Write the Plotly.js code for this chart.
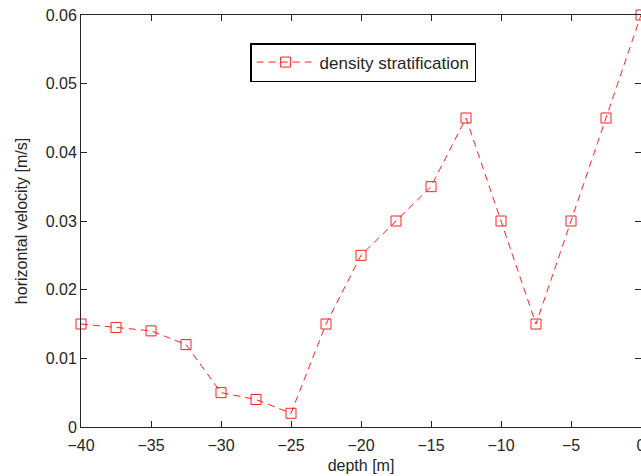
<!DOCTYPE html>
<html>
<head>
<meta charset="utf-8">
<script src="https://cdn.plot.ly/plotly-3.0.1.min.js"></script>
<style>html,body{margin:0;padding:0;background:#fff;}#chart{width:641px;height:476px;}</style>
</head>
<body>
<div id="chart"></div>
<script>
const depth = [-40, -37.5, -35, -32.5, -30, -27.5, -25, -22.5, -20, -17.5, -15, -12.5, -10, -7.5, -5, -2.5, 0];
const velocity = [0.015, 0.0145, 0.014, 0.012, 0.005, 0.004, 0.002, 0.015, 0.025, 0.030, 0.035, 0.045, 0.030, 0.015, 0.030, 0.045, 0.060];
const xTicks = [-40, -35, -30, -25, -20, -15, -10, -5, 0];
const xTickText = ['\u221240', '\u221235', '\u221230', '\u221225', '\u221220', '\u221215', '\u221210', '\u22125', '0'];
const yTicks = [0, 0.01, 0.02, 0.03, 0.04, 0.05, 0.06];
const yTickText = ['0', '0.01', '0.02', '0.03', '0.04', '0.05', '0.06'];

const FONT = 'Liberation Sans, Arial, sans-serif';
const trace = {
  x: depth, y: velocity, type: 'scatter', mode: 'lines+markers',
  name: 'density stratification',
  line: {color: '#ff2020', width: 1, dash: '7px,5px'},
  marker: {symbol: 'square-open', size: 10, color: '#ff2020', line: {width: 1, color: '#ff2020'}},
  cliponaxis: false
};
const axisFont = {family: FONT, size: 16, color: '#262626'};
const layout = {
  width: 641, height: 476,
  margin: {l: 81, r: 0, t: 15, b: 49, autoexpand: false},
  paper_bgcolor: '#fff', plot_bgcolor: '#fff',
  showlegend: true,
  legend: {x: 0.302, y: 0.932, xanchor: 'left', yanchor: 'top', bgcolor: '#fff',
           bordercolor: '#000', borderwidth: 1.5, itemwidth: 58,
           font: {family: FONT, size: 17, color: '#262626'}},
  xaxis: {range: [-40, 0], tickvals: xTicks, ticktext: xTickText, ticks: 'inside', ticklen: 6,
          tickcolor: '#262626', showline: true, linecolor: '#262626', linewidth: 1, mirror: 'ticks',
          showgrid: false, zeroline: false, tickfont: axisFont, ticklabelstandoff: 4,
          ticklabeloverflow: 'allow', automargin: false,
          title: {text: 'depth [m]', font: {family: FONT, size: 16, color: '#262626'}, standoff: 6}},
  yaxis: {range: [0, 0.06], tickvals: yTicks, ticktext: yTickText, ticks: 'inside', ticklen: 6,
          tickcolor: '#262626', showline: true, linecolor: '#262626', linewidth: 1, mirror: 'ticks',
          showgrid: false, zeroline: false, tickfont: axisFont, automargin: false,
          title: {text: 'horizontal velocity [m/s]', font: {family: FONT, size: 16, color: '#262626'}, standoff: 14}}
};
Plotly.newPlot('chart', [trace], layout, {displayModeBar: false, staticPlot: true});
</script>
</body>
</html>
